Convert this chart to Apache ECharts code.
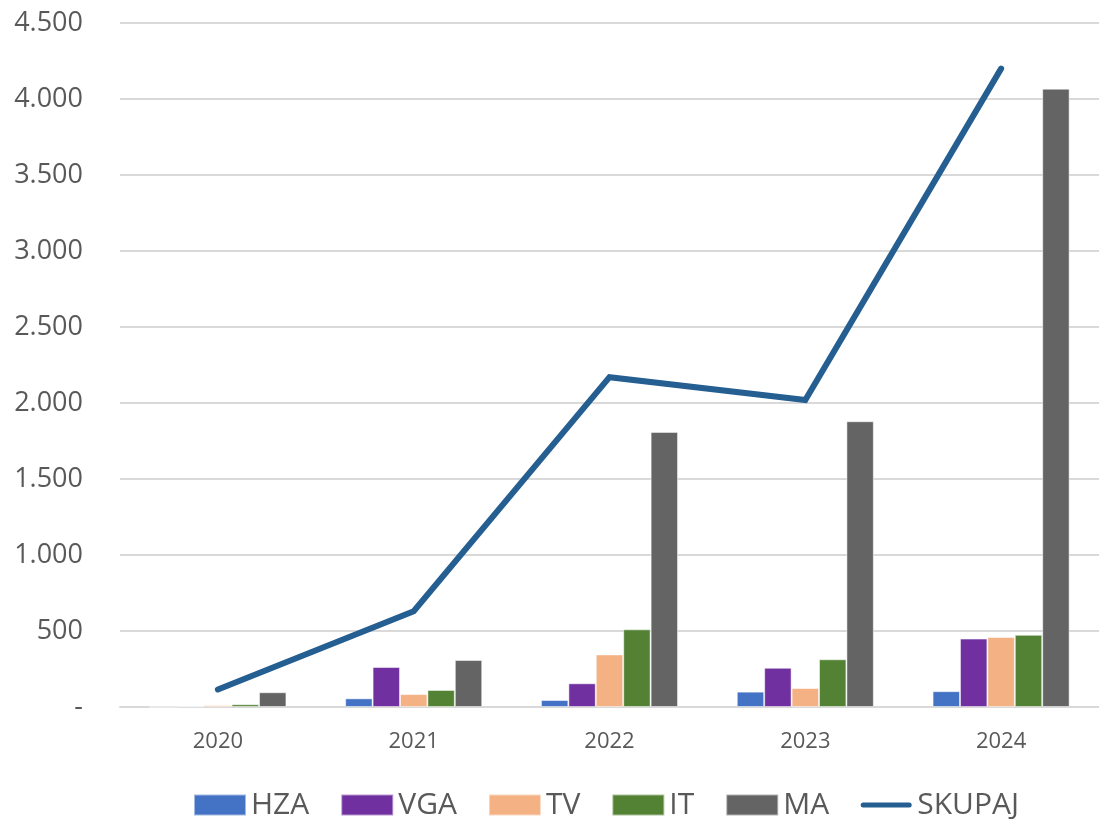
<!DOCTYPE html>
<html>
<head>
<meta charset="utf-8">
<script src="https://cdn.jsdelivr.net/npm/echarts@6/dist/echarts.min.js"></script>
<style>
html,body{margin:0;padding:0;background:#fff;}
#chart{width:1099px;height:819px;}
</style>
</head>
<body>
<div id="chart"></div>
<script>
const categories = ['2020', '2021', '2022', '2023', '2024'];
const hza = [0, 57, 46, 101, 104];
const vga = [5, 263, 156, 258, 450];
const tv = [12, 85, 346, 125, 461];
const it = [18, 112, 511, 314, 475];
const ma = [97, 309, 1810, 1880, 4068];
const skupaj = [115, 630, 2170, 2020, 4200];

const FONT = '"Open Sans", "DejaVu Sans", sans-serif';
const chart = echarts.init(document.getElementById('chart'));

function fmt(v) {
  if (v === 0) return '-';
  return String(v).replace(/\B(?=(\d{3})+(?!\d))/g, '.');
}

function bar(name, data, color) {
  return {
    name: name, type: 'bar', data: data,
    barGap: '0%', barCategoryGap: '30%',
    itemStyle: { color: color, borderColor: 'rgba(255,255,255,0.5)', borderWidth: 1 },
    animation: false
  };
}

const lineIcon = 'path://M0,0 L0.05,0 L0.05,0.05 Z M3,8 L49,8 A2.5,2.5 0 0 1 49,13 L3,13 A2.5,2.5 0 0 1 3,8 Z M52,21 L51.95,21 L51.95,20.95 Z';

chart.setOption({
  animation: false,
  backgroundColor: '#fff',
  grid: { left: 120, right: 0, top: 23, bottom: 112, containLabel: false },
  legend: {
    top: 785, left: 188,
    itemWidth: 52, itemHeight: 21, itemGap: 31,
    textStyle: { fontFamily: FONT, fontSize: 30, color: '#595959', padding: [0, 0, 0, 0] },
    data: [
      { name: 'HZA', icon: 'rect' },
      { name: 'VGA', icon: 'rect' },
      { name: 'TV', icon: 'rect' },
      { name: 'IT', icon: 'rect' },
      { name: 'MA', icon: 'rect' },
      { name: 'SKUPAJ', icon: lineIcon, itemStyle: { color: '#255E91' } }
    ]
  },
  xAxis: {
    type: 'category', data: categories,
    axisLine: { show: true, lineStyle: { color: '#D9D9D9', width: 2 } },
    axisTick: { show: false },
    axisLabel: { fontFamily: FONT, fontSize: 22, color: '#595959', margin: 24 }
  },
  yAxis: {
    type: 'value', min: 0, max: 4500, interval: 500,
    axisLine: { show: false }, axisTick: { show: false },
    splitLine: { lineStyle: { color: '#D9D9D9', width: 2 } },
    axisLabel: { fontFamily: FONT, fontSize: 27, color: '#595959', margin: 37,
      formatter: function (v) { return fmt(v); } }
  },
  series: [
    bar('HZA', hza, '#4472C4'),
    bar('VGA', vga, '#7030A0'),
    bar('TV', tv, '#F4B183'),
    bar('IT', it, '#548235'),
    bar('MA', ma, '#646464'),
    {
      name: 'SKUPAJ', type: 'line', data: skupaj,
      symbol: 'none', showSymbol: false,
      lineStyle: { color: '#255E91', width: 6, cap: 'round', join: 'miter' },
      itemStyle: { color: '#255E91' },
      z: 5
    }
  ]
});
</script>
</body>
</html>
